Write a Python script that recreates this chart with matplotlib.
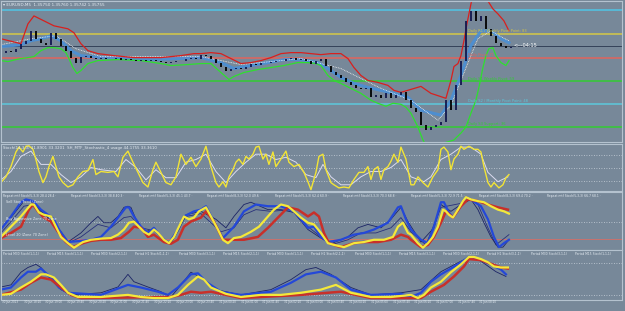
import numpy as np
import matplotlib
matplotlib.use("Agg")
import matplotlib.pyplot as plt

BG = '#778899'
EDGE = '#b4c2cf'
TXT = '#e6edf3'

# ---- main panel (price in pips above 1.3500) ----
close_pips = [74, 75, 74.5, 76, 78.5, 80, 85, 81, 79, 78,
              84, 81, 77.5, 75, 71.5, 69, 72, 72.5, 71.5, 71,
              71.5, 71, 71, 71.5, 70.5, 71, 70.5, 70, 70.5, 70,
              70.5, 70, 69.5, 69, 69.5, 70, 70, 71, 71.5, 71,
              73, 72.5, 71, 69, 67, 65, 66, 66.5, 66, 67,
              68.5, 68, 69, 69, 69.5, 70, 70, 71, 71.5, 70.5,
              71, 70, 68.5, 70, 71, 67.5, 64, 62.5, 61, 59,
              57.5, 56, 55.5, 56, 51.5, 52.5, 51, 53.5, 51, 52.5,
              54, 50, 46, 44, 37.5, 35, 36.5, 37.5, 39, 50,
              45, 57.5, 70, 90, 95, 90, 92.5, 86, 82.5, 79,
              77.5, 76.5, 77]

red_x = [0, 4, 5.4, 6.6, 8.6, 10.6, 13.4, 14.6, 16, 17.4, 19.4, 22.6, 26.6, 32, 36, 38.6,
         40, 42, 44, 46, 48, 50, 52, 54, 56, 58, 60, 62, 64, 66, 68, 69.4, 70.6, 72, 73.4,
         75.4, 77.4, 78.6, 80, 82, 84, 86, 89, 90, 90.6, 91.4, 92, 92.6, 93.2, 93.6, 94,
         94.6, 97, 97.4, 98.4, 99.4, 100.6, 101.6]
red_v = [81, 78.5, 88.5, 92.5, 90, 87.5, 86, 84, 78.5, 75, 73.5, 72.5, 71.5, 71.5, 72.5, 73.5,
         73.5, 74, 73.5, 71, 68.5, 69, 70, 71.5, 73.5, 74, 74, 73.5, 73, 73.5, 73.5, 71, 66.5,
         62.5, 60, 59, 57.5, 55, 54, 55.5, 57, 53.5, 51, 60, 67, 68.5, 72.5, 80, 88.5, 93.5,
         98.5, 105, 105, 100, 96, 93.5, 90, 85]

green_x = [0, 1.4, 3, 4, 5.4, 6.6, 8, 9.4, 10.6, 12, 13, 13.6, 14.4, 15.2, 16, 17.4, 19.4,
           23.4, 28, 32, 34, 37.4, 40, 42, 44, 45.6, 46.6, 48.6, 51.4, 54, 56.6, 59.4, 61.4,
           63, 64, 65.4, 66.6, 68, 70, 72, 74, 75.4, 77, 78.4, 80, 81, 82, 83.4, 84.4, 85,
           88.6, 90.6, 92, 93, 94, 95, 95.6, 96.4, 97, 97.6, 98.4, 99, 100, 101, 101.6]
green_v = [70, 69.5, 70.5, 71, 71.5, 72, 75, 76.5, 76.5, 76, 74, 71, 66.5, 63.5, 65, 68.5, 70,
           70.5, 70, 68.5, 67.5, 68, 68.5, 68.5, 64, 60.5, 62, 64, 65.5, 66.5, 67.5, 69, 69,
           68.5, 67.5, 62.5, 60, 58.5, 56, 53.5, 50, 48.5, 47, 48.5, 48, 46.5, 43.5, 36.5, 30,
           27.5, 28.5, 30, 33.5, 36.5, 43.5, 50, 56.5, 66.5, 72.5, 76, 76.5, 72.5, 69, 67.5, 70]

blue_x = [0, 4, 6, 8, 10, 12, 14, 16, 20, 30, 40, 44, 46.6, 50, 53.4, 56.6, 60, 63.4, 65.4,
          68, 70.6, 73.4, 76, 78.6, 81.4, 84, 88, 90, 92, 94, 96, 98, 100, 101.6]
blue_v = [77, 78, 80, 81, 82.5, 80, 75, 72.5, 71.5, 70.5, 71.5, 69, 66, 67.5, 69, 70.5, 70.5,
          69, 66, 61.5, 58.5, 56.5, 55, 53.5, 51.5, 45, 42.5, 50, 62.5, 77.5, 85, 85, 81, 79]

white_x = [0, 6, 11, 15, 20, 40, 48, 60, 68, 76, 82, 87.4, 90, 92, 94, 95.4, 98, 100, 101.6]
white_v = [78, 81, 82.5, 76, 72, 72, 68, 71, 66, 56, 50, 40, 47.5, 60, 72.5, 81, 85, 82, 80]

level_pips = [95.5, 83.5, 71.5, 59.5, 48, 36.5]
level_colors = ['#4fc6e6', '#d6c846', '#e0645c', '#32cd32', '#5cc8dc', '#32cd32']
level_names = ['', 'Daily R1 / Weekly Pivot Point: 83', 'Daily Pivot: 71',
               'Daily S1 Weekly Pivot: 59', 'Daily S2 / Monthly Pivot Point: 48',
               'Daily S3 Support: 36']
current_pips = 77.5

# ---- stochastic panel ----
st_x = [0, 1, 2, 3, 3.6, 4.4, 5, 5.6, 6.4, 7, 7.6, 8.4, 9, 9.6, 10.4, 11, 11.6, 12.4, 13.4,
        14.4, 15.4, 16.4, 17.4, 18.4, 19, 20, 21.4, 22.6, 23.4, 24.4, 25.4, 26.4, 27.4, 28.4,
        29.4, 30.4, 31, 32, 33, 34, 35, 36, 37, 38, 39, 40, 41, 42, 43, 43.6, 44.4, 45, 45.6,
        46.4, 47, 47.6, 48.4, 49, 49.6, 50.4, 51, 51.6, 52.4, 53, 53.6, 54.4, 55, 56, 57, 57.6,
        58.6, 59.6, 60.6, 61.4, 62, 63, 63.6, 64.4, 65, 66, 66.6, 67.6, 68.6, 69.6, 70.6, 71.6,
        72.6, 73.4, 74, 74.6, 75.4, 76, 76.6, 77.4, 78, 78.6, 79.4, 80, 81, 82, 82.6, 83.4,
        84.4, 85.4, 86.4, 87.4, 88, 88.6, 89.4, 90, 90.6, 91.4, 92, 92.6, 93.6, 94.6, 95.4,
        96, 96.6, 97.4, 98, 98.6, 99.6, 100.4, 101, 101.6]
st_main = [17, 30, 53, 86, 97, 86, 99, 100, 92, 69, 42, 17, 30, 53, 76, 53, 30, 17, 7,
           12, 30, 42, 44, 69, 35, 42, 40, 42, 30, 74, 88, 63, 40, 17,
           7, 46, 63, 40, 17, 12, 30, 81, 58, 74, 53, 70, 99, 53, 17, 7, 19, 7, 30,
           46, 63, 70, 58, 76, 70, 81, 97, 99, 70, 81, 58, 86, 53, 70, 88, 63,
           53, 58, 40, 19, 1, 40, 76, 81, 46, 17, 12, 5, 7, 5, 24, 40,
           40, 53, 24, 46, 53, 24, 46, 53, 65, 81, 63, 97, 70, 12, 12, 30,
           17, 7, 30, 46, 92, 97, 86, 46, 70, 81, 99, 92, 99, 92, 92,
           86, 53, 17, 7, 17, 5, 12, 28, 35]
sig_x = [0, 2, 4, 6, 8, 10, 12, 14, 16, 18, 20, 23, 25, 27, 29, 31, 33, 35, 37, 39, 41, 43,
         45, 47, 49, 51, 53, 55, 57, 59, 61, 63, 64.4, 66, 68, 70, 72, 74, 76, 78, 80, 82,
         84.6, 86, 88, 90, 92, 94, 96, 97.4, 99.4, 101.4]
sig_v = [23, 42, 76, 88, 58, 58, 35, 17, 30, 51, 46, 42, 69, 51, 23, 46, 28, 28, 63, 69, 81,
         42, 17, 42, 63, 81, 81, 69, 74, 63, 35, 28, 58, 30, 12, 12, 30, 42, 42, 51, 69, 30,
         19, 30, 69, 81, 97, 97, 81, 40, 19, 30]

# ---- repeat mtf stoch panel ----
p3_yel_x = [0, 2, 4, 6, 6.6, 7.6, 8.6, 10, 11, 12, 13.4, 14.6, 16.4, 18, 20, 22, 23.4, 24.6,
            25.6, 26.6, 27.6, 28.6, 29.6, 30.6, 31.4, 32.6, 33.6, 34.6, 35.6, 36.6, 37.6, 38.6,
            39.6, 41, 42, 43.4, 44.4, 45.4, 46.6, 48, 50, 51.6, 53.4, 54.6, 56, 57.4, 58.6, 60,
            61.4, 62.6, 64, 65.4, 66.6, 68.6, 70.6, 72.6, 74.6, 76.6, 78.4, 79.4, 80.4, 81.4, 82,
            83.4, 84.4, 85.4, 86.4, 87.4, 88.4, 89, 89.6, 90.4, 91.4, 92.4, 93, 94, 95.4, 96.6,
            98, 99.4, 100.6, 101.6]
p3_yel_v = [23, 41, 59, 80, 80, 66, 62, 59, 41, 23, 12, 4, 14, 18, 20, 21, 27, 36,
            48, 50, 41, 32, 27, 36, 30, 18, 12, 23, 41, 59, 54, 57,
            68, 75, 59, 36, 18, 12, 21, 23, 32, 41, 59, 71, 80, 77, 68, 57,
            48, 45, 30, 12, 9, 5, 12, 14, 18, 18, 23, 41, 48, 30, 27,
            12, 4, 12, 23, 41, 71, 68, 62, 57, 71, 86, 93, 89, 86, 84,
            77, 71, 68, 64]
p3_blue_x = [0, 2, 4, 5, 6.4, 8, 9.4, 10.6, 11.6, 13.4, 16, 18, 20, 22, 23.6, 25, 25.6, 26.6,
             28, 29.4, 30.6, 32, 33.6, 35.4, 36.6, 38.6, 40, 41, 42.6, 44.4, 46.6, 48.6, 51,
             53.4, 56, 58.6, 60, 61.4, 62.6, 64, 65.4, 68, 70.6, 72.6, 74.6, 77.4, 79.4, 80, 81,
             82, 84, 85.4, 86.6, 88, 88.6, 89.6, 90.4, 91.4, 92.4, 93, 94, 96, 97.4, 98.6, 99.6,
             100.6, 101.6]
p3_blue_v = [36, 59, 84, 89, 86, 71, 62, 54, 36, 14, 16, 18, 23, 41, 59, 75, 75, 59, 41, 30,
             39, 23, 12, 36, 59, 68, 71, 77, 50, 21, 41, 68, 80, 77, 77, 68, 54, 39, 41, 23,
             14, 18, 27, 30, 36, 48, 75, 77, 54, 36, 18, 12, 41, 84, 84, 66, 57, 71, 86, 93,
             89, 77, 54, 23, 5, 12, 18]
p3_red_x = [0, 2, 4, 5.6, 6.4, 7.4, 8.6, 10, 11.4, 13, 14.4, 16.4, 18, 20, 22, 24, 25.6, 26.6,
            28, 29.4, 30.6, 32.6, 34, 35.4, 36.6, 38, 40, 41, 42.6, 44.4, 46.6, 48.6, 51.4,
            53.4, 55.4, 57.4, 59.4, 61.4, 62.6, 63.6, 64.6, 65.6, 68, 70.6, 72.6, 75.4, 78, 80,
            81.4, 82, 84, 85.4, 86.6, 88, 89, 90.4, 92, 93.4, 95.4, 97.4, 99.4, 101.4]
p3_red_v = [21, 30, 41, 71, 80, 68, 57, 50, 32, 14, 5, 12, 16, 18, 18, 21, 32, 41,
            39, 23, 27, 14, 11, 18, 41, 50, 57, 68, 50, 18, 18, 18, 23,
            39, 57, 75, 71, 59, 66, 59, 30, 12, 5, 12, 14, 14, 18, 27,
            23, 18, 5, 9, 23, 48, 68, 57, 77, 89, 86, 80, 75, 71]
p3_nav1_x = [0, 2, 4.6, 6, 8, 11, 13.4, 16, 18, 19.4, 20.6, 22, 23.4, 24.6, 25.4, 26, 27, 28.6,
             30.6, 32.6, 34, 35.6, 37, 40, 43, 45, 46.6, 48.6, 50, 53.4, 56, 58.6, 61.4, 64,
             66, 69.4, 71.4, 73.4, 76, 78, 80, 81.4, 84, 86.6, 88, 90, 92, 94, 95.4, 96.6, 98,
             99.4, 100.4, 101.6]
p3_nav1_v = [37, 57, 86, 86, 68, 45, 14, 30, 48, 59, 48, 48, 59, 75, 77, 75, 54, 32,
             36, 18, 12, 36, 62, 68, 54, 39, 59, 80, 84, 71, 71, 66, 36, 21,
             11, 23, 39, 45, 39, 54, 75, 50, 14, 39, 80, 68, 80, 89, 71, 48, 23,
             5, 5, 18]
p3_nav2_x = [0, 2, 4.6, 6.4, 9, 13.4, 16, 18, 19.4, 22, 24.6, 26, 28, 30.6, 33.6, 37, 40, 44,
             46.6, 48.6, 51, 54, 58, 61.4, 66, 69.4, 72, 75, 78, 80, 82, 85, 88, 92, 94, 95.4,
             97.4, 99, 101.6]
p3_nav2_v = [30, 50, 77, 80, 62, 12, 23, 36, 45, 39, 57, 59, 39, 34, 12, 59, 64, 32,
             39, 62, 71, 68, 71, 41, 9, 18, 30, 30, 39, 57, 32, 9, 75, 82, 89, 80,
             39, 9, 27]
p3_title = ['Repeat mtf Stoch(5,3,3) 28.4 28.4 \u00b7', 'Repeat mtf Stoch(3,3,3) 38.8 40.3 \u00b7',
            'Repeat mtf Stoch(5,3,3) 45.1 43.7 \u00b7', 'Repeat mtf Stoch(8,3,3) 52.0 49.6 \u00b7',
            'Repeat mtf Stoch(5,3,3) 62.4 60.9 \u00b7', 'Repeat mtf Stoch(3,3,3) 70.3 68.8 \u00b7',
            'Repeat mtf Stoch(5,3,3) 72.9 71.5 \u00b7', 'Repeat mtf Stoch(8,3,3) 69.4 70.2 \u00b7',
            'Repeat mtf Stoch(5,3,3) 66.7 68.1 \u00b7']
p3_zones = ['Sell Stop Trend (Zone)', 'Buy Aggressive Zone 70 Zone', 'Level 20 (Zone 70 Zone)']
p3_zone_v = [82, 52, 24]

# ---- period stoch panel ----
p4_yel_x = [0, 2, 4, 6, 8, 9, 10.6, 12, 13.4, 15.4, 17.4, 20, 22.6, 25.4, 28, 30.6, 33.4,
            35.4, 37.4, 39.4, 40.6, 42, 45, 48, 52, 56, 60, 64, 67, 70, 74, 78, 80, 82, 83.4,
            84.6, 86, 88, 90, 92, 93.6, 94.6, 96, 97.4, 98.6, 100, 101.4]
p4_yel_v = [20, 22, 34, 45, 59, 59, 53, 39, 24, 16, 16, 16, 18, 20, 16, 14, 14,
            20, 39, 55, 49, 34, 22, 16, 20, 20, 24, 30, 39, 24, 16, 16, 18, 20, 14,
            20, 34, 45, 63, 78, 92, 92, 88, 82, 74, 72, 72]
p4_blue_x = [0, 2, 4, 5.4, 7, 8, 10, 11.6, 13.4, 20, 25.4, 28, 31.4, 33.4, 35.4, 38, 39.4, 41,
             44, 48, 54, 58, 61, 64, 67, 70, 74, 80, 82, 84, 86, 88, 90, 91.4, 93.6, 96, 98,
             100, 101]
p4_blue_v = [30, 34, 53, 64, 64, 70, 53, 34, 24, 20, 39, 34, 26, 20, 34, 59, 61, 45,
             26, 20, 26, 43, 59, 64, 53, 30, 20, 22, 16, 24, 45, 59, 70, 78, 92, 86, 78,
             68, 59]
p4_red_x = [0, 4, 6, 8, 10, 12, 14, 16, 34, 36, 38, 40, 42, 48, 60, 68, 74, 82, 84, 86,
            88.6, 90.6, 92.6, 93.6, 96, 100, 101.4]
p4_red_v = [20, 30, 43, 53, 49, 34, 20, 14, 16, 20, 26, 24, 26, 14, 20, 26, 14, 14, 14, 26,
            39, 55, 74, 88, 86, 72, 70]
p4_nav_x = [0, 2, 4, 5.4, 7, 8, 10, 12, 14, 20, 23.4, 25.4, 26.6, 29.4, 32, 34, 36, 38, 40,
            43, 48, 54, 58, 61, 63, 66, 70, 74, 80, 84, 88, 92, 94, 96, 99, 101]
p4_nav_v = [35, 39, 63, 72, 78, 72, 49, 30, 20, 24, 35, 59, 45, 35, 26, 16, 39, 63, 53,
            30, 20, 30, 49, 68, 72, 59, 34, 20, 24, 30, 64, 84, 92, 84, 64, 55]
p4_title = ['Period M30 Stoch(1,1,1)', 'Period M15 Stoch(1,1,1)', 'Period M30 Stoch(2,1,1)',
            'Period H1 Stoch(1,1,1)', 'Period M30 Stoch(3,1,1)', 'Period M15 Stoch(2,1,1)',
            'Period M30 Stoch(1,1,1)', 'Period H1 Stoch(2,1,1)', 'Period M30 Stoch(1,1,1)',
            'Period M15 Stoch(3,1,1)', 'Period M30 Stoch(2,1,1)', 'Period H1 Stoch(3,1,1)',
            'Period M30 Stoch(3,1,1)', 'Period M15 Stoch(1,1,1)']

time_labels = ['30 Jan 2013', '30 Jan 18:20', '30 Jan 19:00', '30 Jan 19:40', '30 Jan 20:20',
               '30 Jan 21:00', '30 Jan 21:40', '30 Jan 22:20', '30 Jan 23:00', '30 Jan 23:40',
               '31 Jan 00:20', '31 Jan 01:00', '31 Jan 01:40', '31 Jan 02:20', '31 Jan 03:00',
               '31 Jan 03:40', '31 Jan 04:20', '31 Jan 05:00', '31 Jan 05:40', '31 Jan 06:20',
               '31 Jan 07:00', '31 Jan 07:40', '31 Jan 08:20']

W, H = 625, 311
fig = plt.figure(figsize=(W / 100, H / 100), dpi=100, facecolor=BG)


def panel(top, bottom):
    ax = fig.add_axes([0.0015, 1 - bottom / H, 621 / W, (bottom - top) / H])
    ax.set_facecolor(BG)
    for s in ax.spines.values():
        s.set_color(EDGE)
        s.set_linewidth(0.8)
    ax.set_xticks([])
    ax.set_yticks([])
    ax.set_xlim(0, 124.2)
    return ax


def dotted(ax, v):
    ax.axhline(v, color='#c9d2dc', lw=0.6, ls=(0, (1, 2)))


# main
ax1 = panel(1, 142)
ax1.set_ylim(1.3529, 1.3600)
to_price = lambda p: 1.35 + np.asarray(p) / 10000
for lv, c in zip(level_pips, level_colors):
    ax1.axhline(to_price(lv), color=c, lw=1.1)
ax1.axhline(to_price(current_pips), color='#34425a', lw=0.7)
ax1.plot(blue_x, to_price(blue_v), color='#4a8fd6', lw=2.2, alpha=0.9)
ax1.plot(white_x, to_price(white_v), color='#f2f2f2', lw=0.6, ls=(0, (1, 1)))
ax1.plot(red_x, to_price(red_v), color='#d8201e', lw=0.9)
ax1.plot(green_x, to_price(green_v), color='#2ee02e', lw=0.9)
cl = to_price(close_pips)
op = np.concatenate([[cl[0] - 0.00008], cl[:-1]])
xb = np.arange(len(cl))
up = cl >= op
ax1.vlines(xb[up], op[up], cl[up], color='#12184e', lw=1.3)
ax1.vlines(xb[~up], cl[~up], op[~up], color='#000000', lw=1.3)
for lv, c, name in zip(level_pips, level_colors, level_names):
    if name:
        ax1.text(93.5, to_price(lv) + 0.00004, name, color=c, fontsize=2.6, va='bottom')
ax1.text(102.5, to_price(current_pips), '<---04:15', color='white', fontsize=3.6, va='center')
ax1.text(0.004, 0.985, '\u25be EURUSD,M5  1.35750 1.35760 1.35742 1.35755', transform=ax1.transAxes,
         color=TXT, fontsize=3.0, va='top')

# stochastic
ax2 = panel(144, 191)
ax2.set_ylim(-2, 104)
for v in (80, 50, 20):
    dotted(ax2, v)
ax2.plot(sig_x, sig_v, color='#dcdcf0', lw=0.7)
ax2.plot(st_x, st_main, color='#f2e436', lw=1.0)
ax2.text(0.004, 0.96, 'Stoch(14,3,3) 31.8901 33.3201  SH_MTF_Stochastic_4 usage 44.1755 33.3610',
         transform=ax2.transAxes, color=TXT, fontsize=2.8, va='top')

# repeat mtf stoch
ax3 = panel(192, 250)
ax3.set_ylim(0, 102)
dotted(ax3, 50)
ax3.axhline(20, color='#c8726e', lw=0.7)
ax3.plot(p3_nav2_x, p3_nav2_v, color='#28307a', lw=0.6)
ax3.plot(p3_nav1_x, p3_nav1_v, color='#1c2466', lw=0.6)
ax3.plot(p3_blue_x, p3_blue_v, color='#2448d8', lw=1.6)
ax3.plot(p3_red_x, p3_red_v, color='#c8302a', lw=1.8)
ax3.plot(p3_yel_x, p3_yel_v, color='#f4e83a', lw=1.6)
for k, t in enumerate(p3_title):
    ax3.text(0.5 + k * 13.6, 99, t, color=TXT, fontsize=2.2, va='top')
for t, v in zip(p3_zones, p3_zone_v):
    ax3.text(1, v, t, color=TXT, fontsize=2.4)

# period stoch
ax4 = panel(250, 300)
ax4.set_ylim(10.3, 105.2)
dotted(ax4, 80)
dotted(ax4, 20)
ax4.plot(p4_nav_x, p4_nav_v, color='#1c2466', lw=0.6)
ax4.plot(p4_blue_x, p4_blue_v, color='#2448d8', lw=1.6)
ax4.plot(p4_red_x, p4_red_v, color='#c8302a', lw=1.8)
ax4.plot(p4_yel_x, p4_yel_v, color='#f4e83a', lw=1.6)
for k, t in enumerate(p4_title):
    ax4.text(0.5 + k * 8.8, 102, t, color=TXT, fontsize=2.2, va='top')

for k, lab in enumerate(time_labels):
    ax4.text(k * 4.34 + 0.2, 6.5, lab, color=TXT, fontsize=2.0, va='center', clip_on=False)

fig.savefig('out.png', dpi=100, facecolor=BG)
